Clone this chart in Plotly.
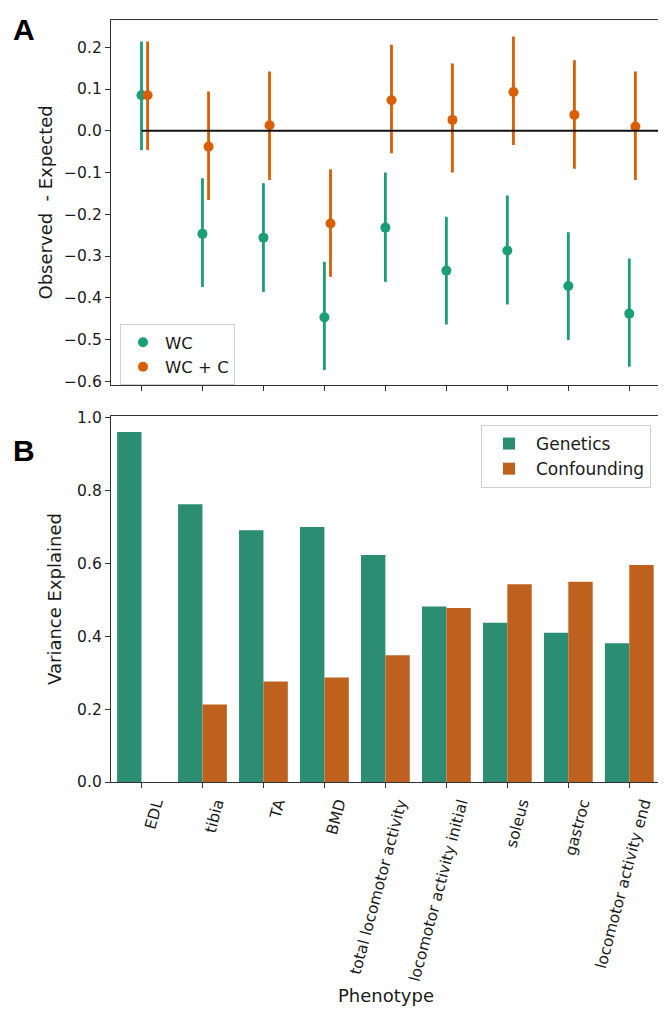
import plotly.graph_objects as go

categories = ["EDL", "tibia", "TA", "BMD", "total locomotor activity",
              "locomotor activity initial", "soleus", "gastroc", "locomotor activity end"]

# Panel A: Observed - Expected with intervals
wc_mean = [0.085, -0.247, -0.256, -0.447, -0.232, -0.335, -0.287, -0.372, -0.438]
wc_low = [-0.046, -0.374, -0.386, -0.573, -0.362, -0.464, -0.416, -0.501, -0.565]
wc_high = [0.214, -0.114, -0.126, -0.314, -0.100, -0.206, -0.155, -0.243, -0.306]

wcc_mean = [0.085, -0.038, 0.013, -0.222, 0.073, 0.026, 0.093, 0.038, 0.010]
wcc_low = [-0.046, -0.166, -0.118, -0.350, -0.054, -0.100, -0.034, -0.091, -0.118]
wcc_high = [0.214, 0.094, 0.142, -0.092, 0.206, 0.161, 0.226, 0.169, 0.142]

# Panel B: variance explained
genetics = [0.961, 0.763, 0.691, 0.700, 0.623, 0.482, 0.437, 0.410, 0.381]
confounding = [0.0, 0.213, 0.276, 0.287, 0.348, 0.478, 0.543, 0.550, 0.596]

GREEN_PT = "#1b9e77"
ORANGE_PT = "#d95f02"
GREEN_BAR = "#2b8d71"
ORANGE_BAR = "#be611e"
TXT = "#1a1a1a"
FONT = "DejaVu Sans"

idx = list(range(len(categories)))
dodge = 0.1

fig = go.Figure()

fig.add_trace(go.Scatter(
    x=idx, y=wc_mean, mode="markers", name="WC",
    marker=dict(color=GREEN_PT, size=10),
    error_y=dict(type="data", symmetric=False,
                 array=[h - m for h, m in zip(wc_high, wc_mean)],
                 arrayminus=[m - l for m, l in zip(wc_mean, wc_low)],
                 color=GREEN_PT, thickness=2.8, width=0),
    xaxis="x", yaxis="y", legend="legend"))

fig.add_trace(go.Scatter(
    x=[i + dodge for i in idx], y=wcc_mean, mode="markers", name="WC + C",
    marker=dict(color=ORANGE_PT, size=10),
    error_y=dict(type="data", symmetric=False,
                 array=[h - m for h, m in zip(wcc_high, wcc_mean)],
                 arrayminus=[m - l for m, l in zip(wcc_mean, wcc_low)],
                 color=ORANGE_PT, thickness=2.8, width=0),
    xaxis="x", yaxis="y", legend="legend"))

fig.add_trace(go.Bar(
    x=idx, y=genetics, name="Genetics", marker=dict(color=GREEN_BAR, line=dict(width=0)),
    width=0.4, offset=-0.4, xaxis="x2", yaxis="y2", legend="legend2"))
fig.add_trace(go.Bar(
    x=idx, y=confounding, name="Confounding", marker=dict(color=ORANGE_BAR, line=dict(width=0)),
    width=0.4, offset=0.0, xaxis="x2", yaxis="y2", legend="legend2"))

XMAX = len(categories) - 0.48

# zero reference line in panel A
fig.add_shape(type="line", xref="x", yref="y", x0=idx[0], x1=XMAX,
              y0=0, y1=0, line=dict(color="#111111", width=1.8), layer="above")

xdom = [103 / 666, 653 / 666]
axis_common = dict(showline=True, mirror=True, linecolor="#333333", linewidth=1.3,
                   ticks="outside", ticklen=5, tickcolor="#333333", showgrid=False,
                   zeroline=False, automargin=False,
                   tickfont=dict(family=FONT, size=15.5, color=TXT))

fig.update_layout(
    width=666, height=1017,
    margin=dict(l=0, r=0, t=0, b=0, autoexpand=False),
    paper_bgcolor="white", plot_bgcolor="white",
    font=dict(family=FONT, color=TXT),
    xaxis=dict(domain=xdom, range=[-0.5, XMAX], anchor="y",
               tickvals=idx, showticklabels=False, **axis_common),
    yaxis=dict(domain=[1 - 377 / 1017, 1 - 11.7 / 1017], range=[-0.609, 0.266], anchor="x",
               tickvals=[0.2, 0.1, 0.0, -0.1, -0.2, -0.3, -0.4, -0.5, -0.6],
               ticktext=["0.2", "0.1", "0.0", "\u22120.1", "\u22120.2", "\u22120.3",
                         "\u22120.4", "\u22120.5", "\u22120.6"],
               title=dict(text="Observed  - Expected", font=dict(family=FONT, size=18, color=TXT),
                          standoff=6),
               **axis_common),
    xaxis2=dict(domain=xdom, range=[-0.5, XMAX], anchor="y2",
                tickvals=idx, ticktext=categories, tickangle=-75, ticklabelshift=14,
                title=dict(text="Phenotype", font=dict(family=FONT, size=18, color=TXT),
                           standoff=6),
                **axis_common),
    yaxis2=dict(domain=[1 - 774 / 1017, 1 - 408 / 1017], range=[0, 1.005], anchor="x2",
                tickvals=[0.0, 0.2, 0.4, 0.6, 0.8, 1.0],
                ticktext=["0.0", "0.2", "0.4", "0.6", "0.8", "1.0"],
                title=dict(text="Variance Explained", font=dict(family=FONT, size=18, color=TXT),
                           standoff=10),
                **axis_common),
    legend=dict(x=112 / 666, y=1 - 316 / 1017, xanchor="left", yanchor="top",
                bgcolor="rgba(255,255,255,0.85)", bordercolor="#d0d0d0", borderwidth=1,
                font=dict(family=FONT, size=16.5, color=TXT), itemwidth=34,
                tracegroupgap=4),
    legend2=dict(x=643 / 666, y=1 - 417 / 1017, xanchor="right", yanchor="top",
                 bgcolor="rgba(255,255,255,0.85)", bordercolor="#d0d0d0", borderwidth=1,
                 font=dict(family=FONT, size=17, color=TXT), itemwidth=44),
    showlegend=True,
    annotations=[
        dict(text="<b>A</b>", xref="paper", yref="paper", x=3 / 666, y=1 - 3 / 1017,
             xanchor="left", yanchor="top", showarrow=False,
             font=dict(family="Liberation Sans", size=30, color="#000000")),
        dict(text="<b>B</b>", xref="paper", yref="paper", x=3 / 666, y=1 - 424 / 1017,
             xanchor="left", yanchor="top", showarrow=False,
             font=dict(family="Liberation Sans", size=30, color="#000000")),
    ],
)

fig.write_html("out.html")
